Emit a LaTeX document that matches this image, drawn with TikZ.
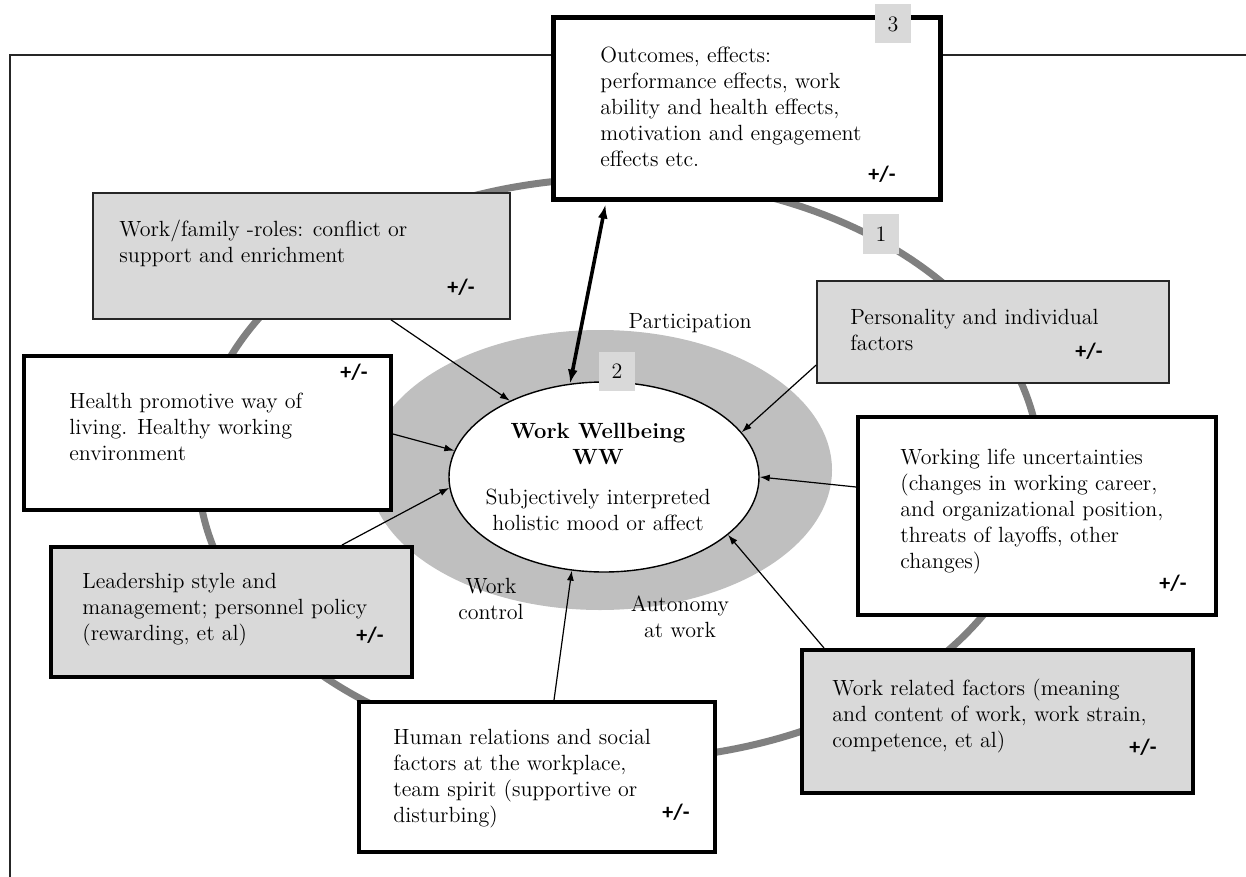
\documentclass[tikz,border=0pt]{standalone}
\usepackage{fontspec}
\newfontfamily\pmfont{Carlito}
\usetikzlibrary{arrows.meta,calc,shapes.geometric}
\definecolor{boxgray}{HTML}{D9D9D9}
\definecolor{ringgray}{HTML}{808080}
\definecolor{zonegray}{HTML}{BFBFBF}
\begin{document}
\begin{tikzpicture}[x=0.5pt,y=-0.5pt,
  font=\fontsize{11}{13}\selectfont,
  thickbox/.style={draw=black, line width=2pt, fill=white, inner sep=0pt},
  graythick/.style={thickbox, fill=boxgray},
  thinbox/.style={draw=black!85, line width=0.8pt, fill=boxgray, inner sep=0pt},
  txt/.style={align=left, anchor=west, inner sep=0pt},
  pm/.style={font=\pmfont\bfseries\fontsize{11}{13}\selectfont, inner sep=0pt},
  tag/.style={fill=boxgray, inner sep=0pt, minimum width=18pt, minimum height=19.5pt},
  arr/.style={-{Latex[length=5pt,width=3.5pt]}, line width=0.6pt},
  bigarr/.style={{Latex[length=7pt,width=5pt]}-{Latex[length=7pt,width=5pt]}, line width=1.8pt},
  ringline/.style={draw=ringgray, line width=3.5pt}
]
\useasboundingbox (0,0) rectangle (1246,877);
% outer frame
\coordinate (fb) at (10,877);
\coordinate (ftl) at (10,55);
\coordinate (fr) at (1246,55);
\draw[line width=0.9pt, black!85] (fb) -- (ftl) -- (fr);
% ring
\draw[ringline] (619,469) ellipse [x radius=210.5pt, y radius=145.5pt];
% zone ellipse and central ellipse
\node[ellipse, fill=zonegray, minimum width=232pt, minimum height=140pt, inner sep=0pt] (zone) at (600,470) {};
\node[ellipse, draw=black, fill=white, line width=0.7pt, minimum width=155pt, minimum height=95pt, inner sep=0pt] (ww) at (604,477) {};
\node[align=center, inner sep=0pt] (wwtext) at (598,477) {\textbf{Work Wellbeing}\\\textbf{WW}\\[7pt]Subjectively interpreted\\holistic mood or affect};

% boxes
\node[thickbox, line width=2.5pt, minimum width=193.5pt, minimum height=91pt] (O) at (746.5,109) {};
\node[thinbox, minimum width=208.5pt, minimum height=63pt] (WF) at (301.5,256) {};
\node[thickbox, minimum width=183.5pt, minimum height=77pt] (HP) at (207.5,433) {};
\node[graythick, minimum width=180.5pt, minimum height=65pt] (LS) at (231.5,612) {};
\node[thickbox, minimum width=178pt, minimum height=75pt] (HR) at (537,777) {};
\node[graythick, minimum width=195.5pt, minimum height=71.5pt] (WR) at (997.5,721.5) {};
\node[thickbox, minimum width=179pt, minimum height=99pt] (WL) at (1037,516) {};
\node[thinbox, minimum width=176pt, minimum height=51pt] (PF) at (993,332) {};

% box texts
\node[txt] (Ot) at (600,106.5) {Outcomes, effects:\\performance effects, work\\ability and health effects,\\motivation and engagement\\effects etc.};
\node[pm] (Opm) at (882,174) {+/-};
\node[txt] (WFt) at (119,243) {Work/family -roles: conflict or\\support and enrichment};
\node[pm] (WFpm) at (461,287) {+/-};
\node[txt] (HPt) at (69,426.5) {Health promotive way of\\living. Healthy working\\environment};
\node[pm] (HPpm) at (354,372) {+/-};
\node[txt] (LSt) at (82,610) {Leadership style and\\management; personnel policy\\(rewarding, et al)};
\node[pm] (LSpm) at (370,635) {+/-};
\node[txt] (HRt) at (393,779) {Human relations and social\\factors at the workplace,\\team spirit (supportive or\\disturbing)};
\node[pm] (HRpm) at (676,812) {+/-};
\node[txt] (WRt) at (832,716.5) {Work related factors (meaning\\and content of work, work strain,\\competence, et al)};
\node[pm] (WRpm) at (1143,747) {+/-};
\node[txt] (WLt) at (900,512) {Working life uncertainties\\(changes in working career,\\and organizational position,\\threats of layoffs, other\\changes)};
\node[pm] (WLpm) at (1173,583) {+/-};
\node[txt] (PFt) at (850,330) {Personality and individual\\factors};
\node[pm] (PFpm) at (1089,351) {+/-};

% tags
\node[tag] (T3) at (893,24) {3};
\node[tag] (T1) at (881,234) {1};
\node[tag] (T2) at (617,371) {2};

% labels
\node[inner sep=0pt] (lp) at (690,323) {Participation};
\node[align=center, inner sep=0pt] (lwc) at (491,599) {Work\\control};
\node[align=center, inner sep=0pt] (law) at (680,617) {Autonomy\\at work};

% arrows
\draw[arr] ($(WF.south)+(89.5,0)$) -- (ww.141);
\draw[arr] ($(HP.east)+(0,1)$) -- (ww.170);
\draw[arr] ($(LS.north)+(110.5,0)$) -- (ww.184);
\draw[arr] ($(HR.north)+(17,0)$) -- (ww.251);
\draw[arr] ($(WR.north west)+(24,0)$) -- (ww.335);
\draw[arr] ($(WL.west)+(0,-29)$) -- (ww.0);
\draw[arr] ($(PF.west)+(0,33)$) -- (ww.18);
\draw[bigarr] ($(O.south west)+(55,2)$) -- (ww.110);
\end{tikzpicture}
\end{document}
